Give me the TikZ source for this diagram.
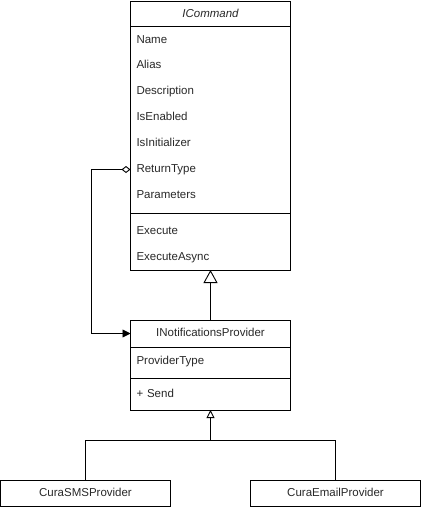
\documentclass[tikz,border=0pt]{standalone}
\usepackage{fontspec}
\setmainfont{Liberation Sans}
\usetikzlibrary{arrows.meta}
\definecolor{txt}{RGB}{40,40,40}
\begin{document}
\begin{tikzpicture}[x=1pt,y=-1pt,line width=0.9pt,
  box/.style={draw,minimum width=160pt,inner sep=0pt,outer sep=0pt},
  attr/.style={anchor=west,minimum width=160pt,inner xsep=6pt,inner ysep=0pt,outer sep=0pt,text=txt,font=\fontsize{11.5}{12}\selectfont,align=left,text width=148pt,text height=8.5pt,text depth=2.5pt},
  hdr/.style={anchor=north west,minimum width=160pt,inner sep=0pt,outer sep=0pt,text=txt,font=\fontsize{11.5}{12}\selectfont,text height=8.5pt,text depth=2.5pt},
  leaf/.style={draw,minimum width=170pt,minimum height=26.5pt,inner sep=0pt,outer sep=0pt,text=txt,font=\fontsize{11.5}{12}\selectfont,text height=8.5pt,text depth=2.5pt},
  inh/.style={-{Triangle[open,length=13pt,width=14pt]}},
  inhs/.style={-{Triangle[open,length=8pt,width=8pt]}},
  agg/.style={{Diamond[open,length=9pt,width=7pt]}-{Triangle[length=8pt,width=8pt]}}
]
\useasboundingbox (0,0) rectangle (421,507);
% ICommand
\node[box,anchor=north west,minimum height=269pt] (icmd) at (130.5,1) {};
\node[hdr,minimum height=26pt] (ichdr) at (130.5,1) {\itshape ICommand};
\draw (130.5,26) -- (290.5,26);
\draw (130.5,213) -- (290.5,213);
\node[attr] (a1) at (130.5,40) {Name};
\node[attr] (a2) at (130.5,65.5) {Alias};
\node[attr] (a3) at (130.5,91.5) {Description};
\node[attr] (a4) at (130.5,117.5) {IsEnabled};
\node[attr] (a5) at (130.5,143.5) {IsInitializer};
\node[attr] (rt) at (130.5,169.5) {ReturnType};
\node[attr] (a7) at (130.5,195.5) {Parameters};
\node[attr] (m1) at (130.5,231.5) {Execute};
\node[attr] (m2) at (130.5,257.5) {ExecuteAsync};
% INotificationsProvider
\node[box,anchor=north west,minimum height=90pt] (inp) at (130.5,320) {};
\node[hdr,minimum height=27pt] (inhdr) at (130.5,320) {INotificationsProvider};
\draw (130.5,347) -- (290.5,347);
\draw (130.5,378) -- (290.5,378);
\node[attr] (pt) at (130.5,361) {ProviderType};
\node[attr] (snd) at (130.5,394) {+ Send};
% leaves
\node[leaf,anchor=north west] (sms) at (0.5,480) {CuraSMSProvider};
\node[leaf,anchor=north west] (email) at (250.5,480) {CuraEmailProvider};
% connectors
\draw[inh] (inp.north) -- (icmd.south);
\draw[agg] (rt.west) -- ++(-39,0) |- (inhdr.west);
\coordinate (jn) at (210.5,440);
\draw (jn) -| (sms.north);
\draw (jn) -| (email.north);
\draw[inhs] (jn) -- (inp.south);
\end{tikzpicture}
\end{document}
